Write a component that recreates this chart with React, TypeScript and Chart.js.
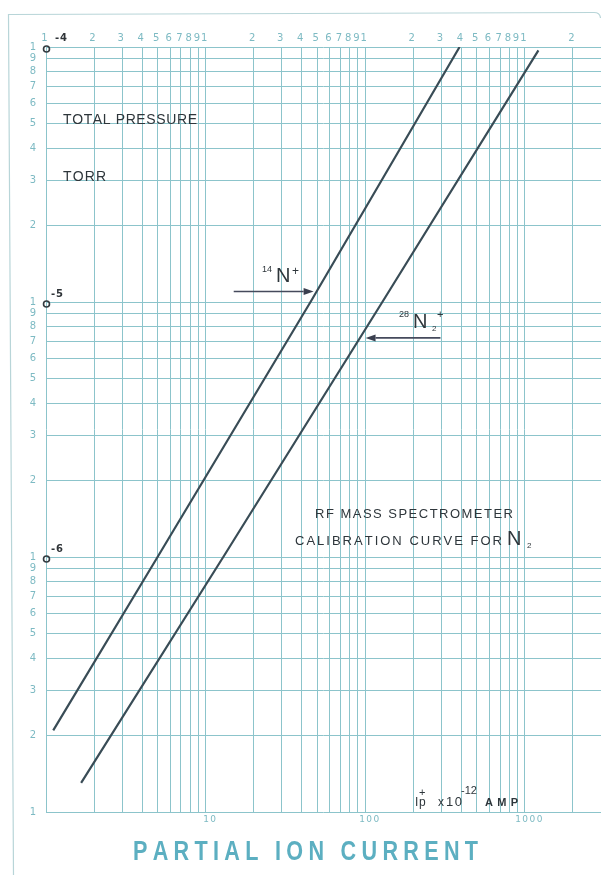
import React, { useEffect, useRef } from "react";
import { Chart, registerables } from "chart.js";

Chart.register(...registerables);

// ---- data ----
const n14Current = [1.11, 5.0, 45.4, 390];
const n14Pressure = [2.09e-7, 1e-6, 1e-5, 1e-4];
const n28Current = [1.66, 12.9, 128, 1216];
const n28Pressure = [1.3e-7, 1e-6, 1e-5, 9.7e-5];

// ---- axis / grid values ----
const xGridValues = [
  1, 2, 3, 4, 5, 6, 7, 8, 9,
  10, 20, 30, 40, 50, 60, 70, 80, 90,
  100, 200, 300, 400, 500, 600, 700, 800, 900,
  1000, 2000, 3000,
];
const yGridValues = [
  1e-7, 2e-7, 3e-7, 4e-7, 5e-7, 6e-7, 7e-7, 8e-7, 9e-7,
  1e-6, 2e-6, 3e-6, 4e-6, 5e-6, 6e-6, 7e-6, 8e-6, 9e-6,
  1e-5, 2e-5, 3e-5, 4e-5, 5e-5, 6e-5, 7e-5, 8e-5, 9e-5,
  1e-4,
];
const xTopLabelValues = [
  1, 2, 3, 4, 5, 6, 7, 8, 9,
  10, 20, 30, 40, 50, 60, 70, 80, 90,
  100, 200, 300, 400, 500, 600, 700, 800, 900,
  1000, 2000,
];
const xTopLabelTexts = [
  "1", "2", "3", "4", "5", "6", "7", "8", "9",
  "1", "2", "3", "4", "5", "6", "7", "8", "9",
  "1", "2", "3", "4", "5", "6", "7", "8", "9",
  "1", "2",
];
const xBottomLabelValues = [10, 100, 1000];
const xBottomLabelTexts = ["10", "100", "1000"];
const yLabelValues = yGridValues;
const yLabelTexts = [
  "1", "2", "3", "4", "5", "6", "7", "8", "9",
  "1", "2", "3", "4", "5", "6", "7", "8", "9",
  "1", "2", "3", "4", "5", "6", "7", "8", "9",
  "1",
];
const decadeValues = [1e-4, 1e-5, 1e-6];
const decadeExponents = ["-4", "-5", "-6"];

// arrows (data coordinates)
const arrow14 = { y: 1.1e-5, xFrom: 15, xTo: 47.5 };
const arrow28 = { y: 7.23e-6, xFrom: 296, xTo: 100.5 };

const GRID = "#8cc4cb";
const LABEL = "#7dbac3";
const INK = "#2e363b";
const CURVE = "#394c56";
const TITLE = "#5cafc1";

function spaced(ctx: CanvasRenderingContext2D, text: string, x: number, y: number, width: number) {
  const chars = text.split("");
  const widths = chars.map((c) => ctx.measureText(c).width);
  const total = widths.reduce((a, b) => a + b, 0);
  const gap = chars.length > 1 ? (width - total) / (chars.length - 1) : 0;
  let cx = x;
  ctx.textAlign = "left";
  chars.forEach((c, i) => {
    ctx.fillText(c, cx, y);
    cx += widths[i] + gap;
  });
}

function arrow(ctx: CanvasRenderingContext2D, x1: number, y: number, x2: number) {
  const dir = x2 > x1 ? 1 : -1;
  const head = 10;
  ctx.save();
  ctx.strokeStyle = "#454a5c";
  ctx.fillStyle = "#3a3f4f";
  ctx.lineWidth = 1.6;
  ctx.beginPath();
  ctx.moveTo(x1, y);
  ctx.lineTo(x2 - dir * head, y);
  ctx.stroke();
  ctx.beginPath();
  ctx.moveTo(x2, y);
  ctx.lineTo(x2 - dir * head, y - 3.5);
  ctx.lineTo(x2 - dir * head, y + 3.5);
  ctx.closePath();
  ctx.fill();
  ctx.restore();
}

const paperPlugin = {
  id: "paper",
  beforeDraw(chart: any) {
    const ctx: CanvasRenderingContext2D = chart.ctx;
    ctx.save();
    ctx.fillStyle = "#ffffff";
    ctx.fillRect(0, 0, chart.width, chart.height);
    // faint page border
    ctx.strokeStyle = "#b8d5d8";
    ctx.lineWidth = 1.2;
    ctx.beginPath();
    ctx.moveTo(13.5, 875);
    ctx.lineTo(8.5, 14.5);
    ctx.lineTo(594, 12.5);
    ctx.quadraticCurveTo(600, 12.5, 600.5, 18);
    ctx.stroke();
    ctx.restore();
  },
  afterDraw(chart: any) {
    const ctx: CanvasRenderingContext2D = chart.ctx;
    const xs = chart.scales.x;
    const ys = chart.scales.y;
    ctx.save();

    // top tick labels
    ctx.fillStyle = LABEL;
    ctx.font = "10px 'DejaVu Sans'";
    ctx.textAlign = "center";
    ctx.textBaseline = "middle";
    xTopLabelValues.forEach((v, i) => {
      ctx.fillText(xTopLabelTexts[i], xs.getPixelForValue(v) - 1.5, 38);
    });

    // left tick labels
    ctx.font = "10px 'DejaVu Sans'";
    yLabelValues.forEach((v, i) => {
      ctx.fillText(yLabelTexts[i], 33, ys.getPixelForValue(v));
    });

    // bottom labels
    ctx.font = "9px 'DejaVu Sans'";
    xBottomLabelValues.forEach((v, i) => {
      const t = xBottomLabelTexts[i];
      const w = ctx.measureText(t).width + (t.length - 1) * 1.5;
      ctx.textBaseline = "middle";
      spaced(ctx, t, xs.getPixelForValue(v) + 4 - w / 2, 820, w);
    });

    // decade markers and exponents
    ctx.strokeStyle = "#333a3f";
    ctx.lineWidth = 1.6;
    ctx.fillStyle = "#2f3438";
    ctx.font = "bold 10px 'DejaVu Sans'";
    ctx.textBaseline = "middle";
    decadeValues.forEach((v, i) => {
      const px = xs.getPixelForValue(1);
      const py = ys.getPixelForValue(v);
      ctx.beginPath();
      ctx.arc(px + 0.5, py + 2, 3, 0, Math.PI * 2);
      ctx.stroke();
      const ey = i === 0 ? 38 : py - 8;
      const ex = i === 0 ? 55 : 51;
      spaced(ctx, decadeExponents[i], ex, ey, 12);
    });

    // arrows
    arrow(ctx, xs.getPixelForValue(arrow14.xFrom), ys.getPixelForValue(arrow14.y), xs.getPixelForValue(arrow14.xTo));
    arrow(ctx, xs.getPixelForValue(arrow28.xFrom), ys.getPixelForValue(arrow28.y), xs.getPixelForValue(arrow28.xTo));

    ctx.fillStyle = INK;
    ctx.textBaseline = "alphabetic";
    ctx.textAlign = "left";

    // 14N+
    ctx.font = "9px 'Liberation Sans'";
    ctx.fillText("14", 262, 272);
    ctx.font = "20px 'Liberation Sans'";
    ctx.fillText("N", 276, 282);
    ctx.font = "12px 'Liberation Sans'";
    ctx.fillText("+", 292, 275);

    // 28N2+
    ctx.font = "9px 'Liberation Sans'";
    ctx.fillText("28", 399, 317);
    ctx.font = "20px 'Liberation Sans'";
    ctx.fillText("N", 413, 328);
    ctx.font = "8px 'Liberation Sans'";
    ctx.fillText("2", 432, 331);
    ctx.font = "11px 'Liberation Sans'";
    ctx.fillText("+", 437, 318);

    // axis annotation texts
    ctx.font = "14px 'Liberation Sans'";
    spaced(ctx, "TOTAL PRESSURE", 63, 124, 134);
    spaced(ctx, "TORR", 63, 181, 43);

    ctx.font = "13px 'Liberation Sans'";
    spaced(ctx, "RF MASS SPECTROMETER", 315, 518, 198);
    spaced(ctx, "CALIBRATION CURVE FOR", 295, 545, 207);
    ctx.font = "20px 'Liberation Sans'";
    ctx.fillText("N", 507, 545);
    ctx.font = "8px 'Liberation Sans'";
    ctx.fillText("2", 527, 548);

    // Ip+ x 10^-12 AMP
    ctx.font = "12px 'Liberation Sans'";
    ctx.fillText("I", 415, 806);
    ctx.fillText("p", 419, 806);
    ctx.fillText("x", 438, 806);
    ctx.font = "13px 'Liberation Sans'";
    spaced(ctx, "10", 446, 806, 16);
    ctx.font = "bold 11px 'Liberation Sans'";
    spaced(ctx, "AMP", 485, 806, 33);
    ctx.font = "11px 'Liberation Sans'";
    ctx.fillText("+", 419, 796);
    ctx.fillText("-12", 461, 794);

    // bottom title
    ctx.fillStyle = TITLE;
    ctx.font = "bold 27px 'Liberation Sans'";
    ctx.save();
    ctx.translate(133, 860);
    ctx.scale(0.8, 1);
    spaced(ctx, "PARTIAL ION CURRENT", 0, 0, 345 / 0.8);
    ctx.restore();

    ctx.restore();
  },
};

export default function App() {
  const ref = useRef<HTMLCanvasElement | null>(null);
  useEffect(() => {
    if (!ref.current) return;
    const chart = new Chart(ref.current, {
      type: "line",
      data: {
        datasets: [
          {
            label: "14N+",
            data: n14Current.map((x, i) => ({ x, y: n14Pressure[i] })),
            borderColor: CURVE,
            borderWidth: 2.2,
            pointRadius: 0,
            tension: 0,
          },
          {
            label: "28N2+",
            data: n28Current.map((x, i) => ({ x, y: n28Pressure[i] })),
            borderColor: CURVE,
            borderWidth: 2.2,
            pointRadius: 0,
            tension: 0,
          },
        ],
      },
      options: {
        responsive: false,
        animation: false,
        layout: { padding: { left: 46, top: 47, right: 0, bottom: 63 } },
        plugins: {
          legend: { display: false },
          tooltip: { enabled: false },
          title: { display: false },
        },
        scales: {
          x: {
            type: "logarithmic",
            min: 1,
            max: 3000,
            ticks: { display: false },
            grid: { color: GRID, lineWidth: 1, drawTicks: false },
            border: { display: false },
            afterBuildTicks: (scale: any) => {
              scale.ticks = xGridValues.map((v) => ({ value: v }));
            },
          },
          y: {
            type: "logarithmic",
            min: 1e-7,
            max: 1e-4,
            ticks: { display: false },
            grid: { color: GRID, lineWidth: 1, drawTicks: false },
            border: { display: false },
            afterBuildTicks: (scale: any) => {
              scale.ticks = yGridValues.map((v) => ({ value: v }));
            },
          },
        },
      } as any,
      plugins: [paperPlugin],
    });
    return () => chart.destroy();
  }, []);
  return (
    <div style={{ position: "absolute", left: 0, top: 0, width: 601, height: 875 }}>
      <canvas ref={ref} width={601} height={875} style={{ display: "block" }} />
    </div>
  );
}
